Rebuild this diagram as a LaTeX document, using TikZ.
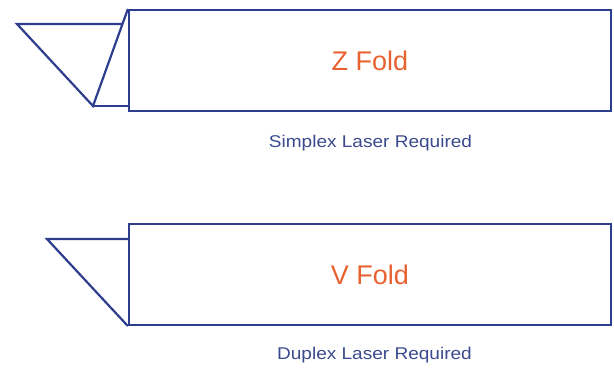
\documentclass[tikz,border=0pt]{standalone}
\usepackage{fontspec}
\usepackage{graphicx}
\setmainfont{Liberation Sans}
\definecolor{linecol}{RGB}{46,62,142}
\definecolor{foldcol}{RGB}{232,98,48}
\definecolor{notecol}{RGB}{58,74,140}
\tikzset{
  foldbox/.style={draw=linecol, line width=2.2pt, minimum width=482pt, minimum height=101pt, inner sep=0pt, text=foldcol, font=\fontsize{27}{30}\selectfont},
  flap/.style={draw=linecol, line width=2.2pt, line join=miter},
  note/.style={text=notecol, inner sep=0pt, font=\fontsize{17}{20}\selectfont}
}
\begin{document}
\begin{tikzpicture}[x=1pt,y=-1pt]
\useasboundingbox (0,0) rectangle (614,369);
\node[foldbox] (zbox) at (370,60.5) {Z Fold};
\node[foldbox] (vbox) at (370,274.5) {V Fold};
\node[note] (znote) at (370.5,143) {\scalebox{1.12}[1]{Simplex Laser Required}};
\node[note] (vnote) at (374.5,355) {\scalebox{1.12}[1]{Duplex Laser Required}};
% Z fold flaps
\coordinate (za) at (17,24);
\coordinate (zb) at (93,106);
\coordinate (zc) at (123,24);
\draw[flap] (zc) -- (za) -- (zb) -- (zbox.north west);
\draw[flap] (zb) -- (zbox.west |- zb);
% V fold flap
\coordinate (va) at (47,239);
\draw[flap] (vbox.west |- va) -- (va) -- (vbox.south west);
\end{tikzpicture}
\end{document}
